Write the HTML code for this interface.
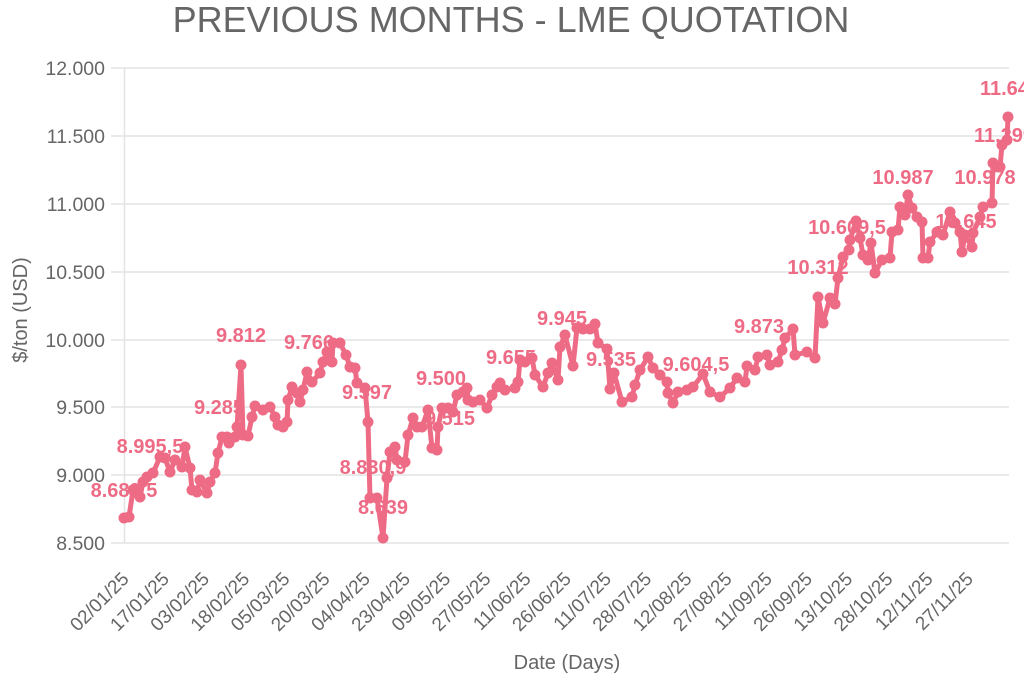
<!DOCTYPE html>
<html><head><meta charset="utf-8"><style>
html,body{margin:0;padding:0;background:#fff;}
svg{display:block;font-family:"Liberation Sans",Arial,sans-serif;}
</style></head><body>
<svg id="s" width="1024" height="683" viewBox="0 0 1024 683">
<text x="511" y="32" text-anchor="middle" font-size="36" fill="#666">PREVIOUS MONTHS - LME QUOTATION</text>
<g stroke="#e3e3e3" stroke-width="1.5">
<line x1="111" y1="68" x2="1009" y2="68"/>
<line x1="111" y1="136" x2="1009" y2="136"/>
<line x1="111" y1="204" x2="1009" y2="204"/>
<line x1="111" y1="272" x2="1009" y2="272"/>
<line x1="111" y1="340" x2="1009" y2="340"/>
<line x1="111" y1="407" x2="1009" y2="407"/>
<line x1="111" y1="475" x2="1009" y2="475"/>
<line x1="111" y1="543" x2="1009" y2="543"/>
<line x1="124.5" y1="68" x2="124.5" y2="543"/>
</g>
<g font-size="19.5" fill="#666" text-anchor="end">
<text x="105" y="75">12.000</text>
<text x="105" y="143">11.500</text>
<text x="105" y="211">11.000</text>
<text x="105" y="279">10.500</text>
<text x="105" y="347">10.000</text>
<text x="105" y="414">9.500</text>
<text x="105" y="482">9.000</text>
<text x="105" y="550">8.500</text>
</g>
<text transform="translate(27,310) rotate(-90)" text-anchor="middle" font-size="20" fill="#666">$/ton (USD)</text>
<text x="567" y="669" text-anchor="middle" font-size="20" fill="#666">Date (Days)</text>
<g id="xl" font-size="19" fill="#666" text-anchor="end"></g>
<g id="lbl" font-size="20" font-weight="bold" fill="#ee6b85" text-anchor="middle">
<text x="124" y="497">8.689,5</text>
<text x="150" y="453">8.995,5</text>
<text x="219" y="414">9.285</text>
<text x="241" y="342">9.812</text>
<text x="309" y="349">9.766</text>
<text x="367" y="399">9.597</text>
<text x="373" y="474">8.830,9</text>
<text x="383" y="514">8.639</text>
<text x="441" y="385">9.500</text>
<text x="450" y="425">9.515</text>
<text x="511" y="364">9.655</text>
<text x="562" y="325">9.945</text>
<text x="611" y="366">9.535</text>
<text x="696" y="371">9.604,5</text>
<text x="759" y="333">9.873</text>
<text x="818" y="274">10.312</text>
<text x="847" y="234">10.609,5</text>
<text x="903" y="184">10.987</text>
<text x="966" y="228">10.645</text>
<text x="985" y="184">10.978</text>
<text x="1004" y="142">11.299</text>
<text x="1010" y="95">11.642</text>
</g>
<g id="ser"></g>
</svg>
<script>
var ns="http://www.w3.org/2000/svg";
var dates=["02/01/25","17/01/25","03/02/25","18/02/25","05/03/25","20/03/25","04/04/25","23/04/25","09/05/25","27/05/25","11/06/25","26/06/25","11/07/25","28/07/25","12/08/25","27/08/25","11/09/25","26/09/25","13/10/25","28/10/25","12/11/25","27/11/25"];
var xl=document.getElementById("xl");
dates.forEach(function(d,i){var x=124+i*40.2;var t=document.createElementNS(ns,"text");t.setAttribute("transform","translate("+(x+6)+",580) rotate(-45)");t.textContent=d;xl.appendChild(t);});
var p=[[124,518],[129,517],[133,490],[140,497],[143,482],[147,477],[153,473],[160,457],[165,458],[170,472],[175,460],[182,467],[185,447],[190,468],[192,490],[197,492],[200,480],[207,493],[210,482],[215,473],[218,453],[222,437],[227,437],[229,443],[235,437],[237,427],[241,365],[243,435],[248,436],[252,417],[255,406],[263,410],[270,407],[275,417],[278,425],[283,427],[287,422],[288,400],[292,387],[297,393],[300,402],[303,390],[307,372],[312,382],[320,373],[323,362],[327,352],[332,362],[333,343],[340,343],[346,355],[350,367],[355,368],[357,383],[365,388],[368,422],[370,498],[377,498],[383,538],[387,478],[390,452],[395,447],[397,460],[405,462],[408,435],[413,418],[417,427],[422,427],[428,410],[432,448],[437,450],[438,427],[442,408],[448,408],[453,412],[457,395],[463,392],[467,388],[468,400],[473,402],[480,400],[487,408],[492,395],[497,387],[500,383],[505,390],[515,388],[518,382],[520,360],[525,362],[532,358],[535,375],[543,387],[548,373],[552,363],[558,380],[560,347],[565,335],[573,366],[577,328],[583,329],[590,329],[595,324],[598,343],[607,349],[610,389],[614,373],[622,402],[632,397],[635,385],[640,370],[648,357],[653,368],[660,375],[667,382],[668,393],[673,403],[678,392],[687,390],[693,387],[703,374],[710,392],[720,397],[730,388],[737,378],[745,382],[747,366],[755,370],[758,357],[767,355],[770,365],[778,362],[782,350],[785,338],[793,329],[795,355],[807,352],[815,358],[818,297],[823,323],[830,298],[835,304],[838,278],[843,257],[849,250],[850,240],[856,221],[860,238],[863,255],[868,260],[871,243],[875,273],[882,260],[890,258],[892,232],[898,230],[900,207],[905,215],[908,195],[912,208],[917,217],[922,222],[923,258],[928,258],[930,242],[937,232],[943,235],[950,212],[955,223],[960,232],[962,252],[965,235],[972,247],[973,233],[980,217],[983,207],[992,203],[993,163],[1000,167],[1002,145],[1007,140],[1008,117]];
var g=document.getElementById("ser");
var pl=document.createElementNS(ns,"polyline");
pl.setAttribute("points",p.map(function(a){return a.join(",")}).join(" "));
pl.setAttribute("fill","none");pl.setAttribute("stroke","#ee6b85");pl.setAttribute("stroke-width","5");pl.setAttribute("stroke-linejoin","round");
g.appendChild(pl);
p.forEach(function(a){var c=document.createElementNS(ns,"circle");c.setAttribute("cx",a[0]);c.setAttribute("cy",a[1]);c.setAttribute("r","5.5");c.setAttribute("fill","#ee6b85");g.appendChild(c);});
</script>
</body></html>
